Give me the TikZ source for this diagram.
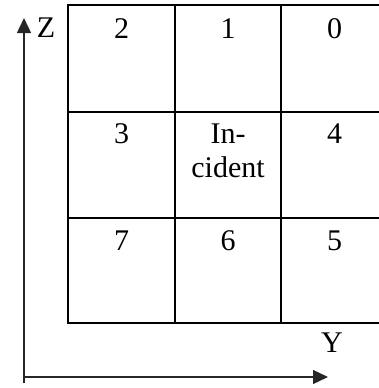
\documentclass[tikz,border=0pt]{standalone}
\usepackage{fontspec}
\setmainfont{Liberation Serif}
\usetikzlibrary{arrows.meta}

\begin{document}
\begin{tikzpicture}[x=1pt,y=-1pt,>={Triangle[length=15pt,width=14pt]},
  cell/.style={anchor=base,inner sep=0pt,font=\fontsize{30}{34.5}\selectfont,align=center},
  grid/.style={line width=2pt},
  axis/.style={line width=1.3pt,black!85}]
\useasboundingbox (0,0) rectangle (379,388);

% grid, cut off at the right edge
\draw[grid] (379,5) -- (68,5) -- (68,323) -- (379,323);
\draw[grid] (68,112) -- (379,112);
\draw[grid] (68,218) -- (379,218);
\draw[grid] (175,5) -- (175,323);
\draw[grid] (281,5) -- (281,323);

\node[cell] (c2) at (121.5,38)  {2};
\node[cell] (c1) at (228,38)    {1};
\node[cell] (c0) at (334.5,38)  {0};
\node[cell] (c3) at (121.5,143) {3};
\node[cell] (ci) at (228,177.5) {In-\\cident};
\node[cell] (c4) at (334.5,143) {4};
\node[cell] (c7) at (121.5,250) {7};
\node[cell] (c6) at (228,250)   {6};
\node[cell] (c5) at (334.5,250) {5};

% axes
\coordinate (O)  at (24,377);
\coordinate (Ob) at (24,383);
\coordinate (Zt) at (24,18);
\coordinate (Yt) at (328,377);
\node[cell] (Z) at (46,37)  {Z};
\node[cell] (Y) at (332,352) {Y};

\draw[axis,->] (Ob) -- (Zt);
\draw[axis,->] (O) -- (Yt);
\end{tikzpicture}
\end{document}
